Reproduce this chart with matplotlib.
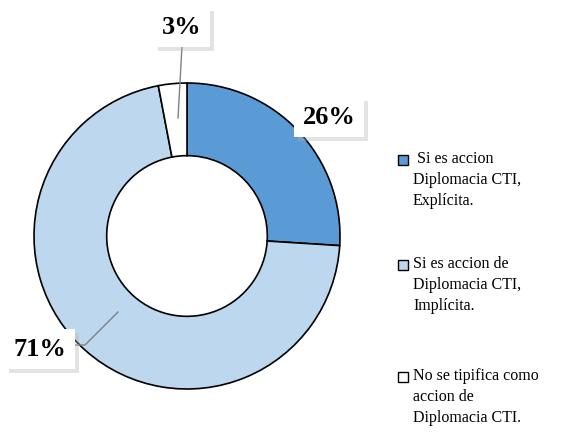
import matplotlib
matplotlib.use('Agg')
import matplotlib.pyplot as plt
import matplotlib.patheffects as pe
from matplotlib.patches import Rectangle

# data
categories = [' Si es accion\nDiplomacia CTI,\nExplícita.',
              'Si es accion de\nDiplomacia CTI,\nImplícita.',
              'No se tipifica como\naccion de\nDiplomacia CTI.']
values = [26, 71, 3]
colors = ['#5B9BD5', '#BDD7EE', '#FFFFFF']
pct_labels = ['26%', '71%', '3%']

W, H = 584, 441
fig = plt.figure(figsize=(W / 100, H / 100), dpi=100)
ax = fig.add_axes([0, 0, 1, 1])

cx, cy, r = 187, 441 - 236, 153
wedges, _ = ax.pie(values, colors=colors, startangle=90, counterclock=False,
                   center=(cx, cy), radius=r, frame=True,
                   wedgeprops=dict(width=r * 0.475, edgecolor='black', linewidth=1.2))
ax.set_xlim(0, W)
ax.set_ylim(0, H)
ax.set_aspect('equal')
ax.axis('off')

serif = ['Liberation Serif', 'DejaVu Serif']

# percentage labels with white boxes and soft shadows
label_pos = [(329, 441 - 117), (40, 441 - 349), (182, 441 - 27)]
for (x, y), txt in zip(label_pos, pct_labels):
    t = ax.text(x, y, txt, ha='center', va='center', fontsize=19, fontweight='bold',
                family=serif,
                bbox=dict(boxstyle='square,pad=0.32', fc='white', ec='none'))
    t.get_bbox_patch().set_path_effects(
        [pe.SimplePatchShadow(offset=(3, -3), shadow_rgbFace='#b0b0b0', alpha=0.35), pe.Normal()])

# leader lines
ax.plot([178, 182], [441 - 118, 441 - 46], color='#808080', lw=1)
ax.plot([118, 85, 74], [441 - 312, 441 - 345, 441 - 345], color='#808080', lw=1)

# legend
leg_y = [160, 265, 377]
for yy, col, txt in zip(leg_y, colors, categories):
    ax.add_patch(Rectangle((398, 441 - yy - 5), 10, 10, fc=col, ec='black', lw=1))
    ax.text(413, 441 - yy + 9, txt, ha='left', va='top', fontsize=11.5, family=serif,
            linespacing=1.42)

fig.savefig('out.png', dpi=100)
